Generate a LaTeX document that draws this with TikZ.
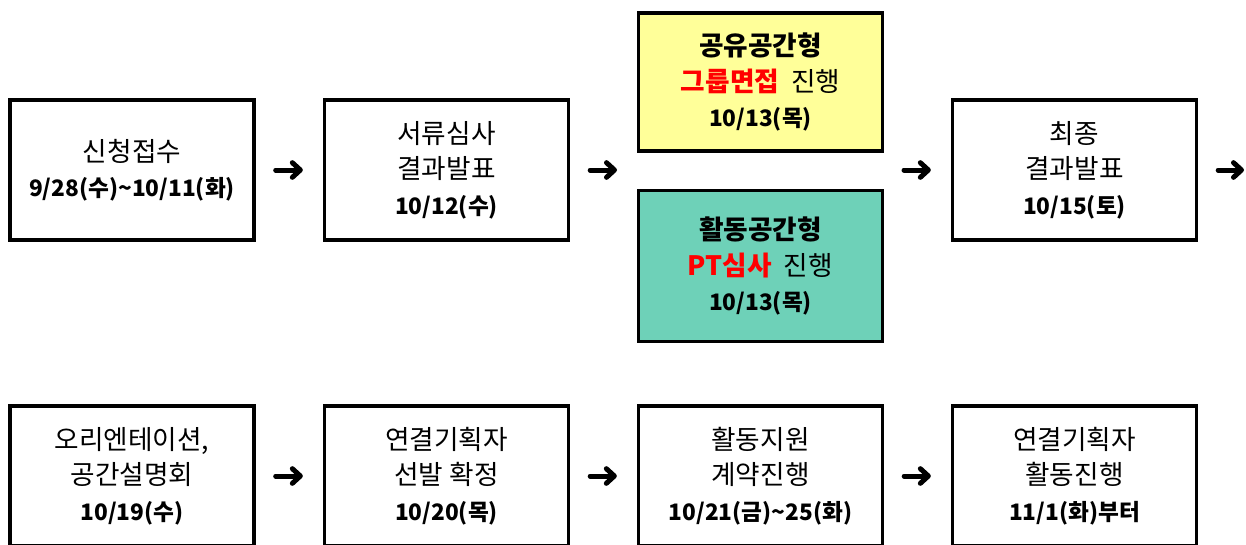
\documentclass[tikz,border=0pt]{standalone}
\usepackage{fontspec}
\setmainfont{Noto Sans CJK KR}
\usetikzlibrary{arrows.meta}
\definecolor{lemon}{HTML}{FFFF99}
\definecolor{mint}{HTML}{6ED1B8}
\newcommand{\dday}[1]{{\fontsize{17}{26.5}\selectfont\bfseries #1}}
\newcommand{\hl}[1]{{\bfseries\color{red}#1}}

\begin{document}
\begin{tikzpicture}[x=0.75pt,y=-0.75pt,
    box/.style={draw,line width=2.5pt,minimum width=183pt,minimum height=105pt,
      align=center,fill=white,font=\fontsize{20}{26.5}\selectfont},
    flow/.style={line width=3.75pt,line cap=round,
      -{Straight Barb[round,length=6pt,width=11pt]},shorten <=15pt,shorten >=15pt}]
    \useasboundingbox (0,0) rectangle (1246,544);
    \node[box] (apply) at (132,170) {신청접수\\\dday{9/28(수)\textasciitilde10/11(화)}};
    \node[box] (doc) at (446.5,170) {서류심사\\결과발표\\\dday{10/12(수)}};
    \node[box,fill=lemon,minimum height=103.5pt] (share) at (760.5,82) {\textbf{공유공간형}\\\hl{그룹면접}\ \ 진행\\\dday{10/13(목)}};
    \node[box,fill=mint,minimum height=113.6pt] (active) at (760.5,266) {\textbf{활동공간형}\\\hl{PT심사}\ \ 진행\\\dday{10/13(목)}};
    \node[box] (final) at (1074.5,170) {최종\\결과발표\\\dday{10/15(토)}};
    \node[box] (orient) at (132,476) {오리엔테이션,\\공간설명회\\\dday{10/19(수)}};
    \node[box] (pick) at (446.5,476) {연결기획자\\선발 확정\\\dday{10/20(목)}};
    \node[box] (contract) at (760.5,476) {활동지원\\계약진행\\\dday{10/21(금)\textasciitilde25(화)}};
    \node[box] (start) at (1074.5,476) {연결기획자\\활동진행\\\dday{11/1(화)부터}};
    \coordinate (midin) at (637,170);
    \coordinate (midout) at (884,170);
    \coordinate (next) at (1264,170);
    \draw[flow] (apply) -- (doc);
    \draw[flow] (doc) -- (midin);
    \draw[flow] (midout) -- (final);
    \draw[flow] (final) -- (next);
    \draw[flow] (orient) -- (pick);
    \draw[flow] (pick) -- (contract);
    \draw[flow] (contract) -- (start);
  \end{tikzpicture}
\end{document}
